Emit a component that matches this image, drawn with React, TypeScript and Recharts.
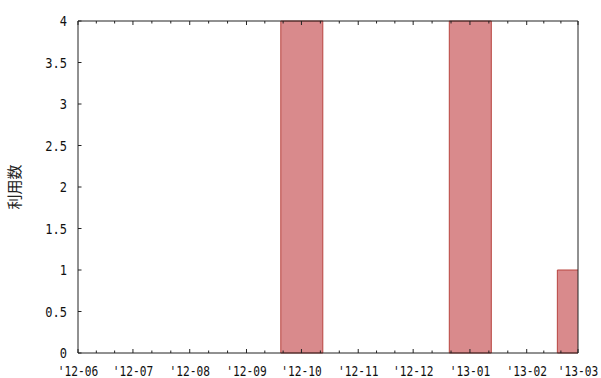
import { ComposedChart, Bar, XAxis, YAxis } from 'recharts';

// monthly usage counts, one entry per month start
const months = ['2012-06', '2012-07', '2012-08', '2012-09', '2012-10', '2012-11', '2012-12', '2013-01', '2013-02', '2013-03'];
const counts = [0, 0, 0, 0, 4, 0, 0, 4, 0, 1];
const yTicks = [0, 0.5, 1, 1.5, 2, 2.5, 3, 3.5, 4];

const AXIS = '#222';
const FONT = '"DejaVu Sans Mono", monospace';

const toTime = (m: string) => {
  const [y, mo] = m.split('-').map(Number);
  return Date.UTC(y, mo - 1, 1);
};

const monthTimes = months.map(toTime);
const data = months.map((m, i) => ({ t: monthTimes[i], count: counts[i] }));

// minor ticks split each month into thirds
const minorTimes = monthTimes.slice(0, -1).flatMap((t, i) => {
  const step = (monthTimes[i + 1] - t) / 3;
  return [t + step, t + 2 * step];
});
const allTicks = [...monthTimes, ...minorTimes].sort((a, b) => a - b);
const majorSet = new Set(monthTimes);
const domain: [number, number] = [monthTimes[0], monthTimes[monthTimes.length - 1]];

const fmtMonth = (t: number) => {
  const d = new Date(t);
  return `'${String(d.getUTCFullYear()).slice(2)}-${String(d.getUTCMonth() + 1).padStart(2, '0')}`;
};

function BottomTick({ x, y, payload }: any) {
  const major = majorSet.has(payload.value);
  return (
    <g>
      <line x1={x} x2={x} y1={y} y2={y - (major ? 4 : 2.5)} stroke={AXIS} />
      {major && (
        <text
          transform={`translate(${x},${y + 23}) scale(0.8,1)`}
          textAnchor="middle"
          fontFamily={FONT}
          fontSize={14}
          fill="#111"
        >
          {fmtMonth(payload.value)}
        </text>
      )}
    </g>
  );
}

function TopTick({ x, y, payload }: any) {
  const major = majorSet.has(payload.value);
  return <line x1={x} x2={x} y1={y} y2={y + (major ? 4 : 2.5)} stroke={AXIS} />;
}

function LeftTick({ x, y, payload }: any) {
  return (
    <g>
      <line x1={x} x2={x + 3.5} y1={y} y2={y} stroke={AXIS} />
      <text
        transform={`translate(${x - 11},${y}) scale(0.86,1)`}
        textAnchor="end"
        dy="0.36em"
        fontFamily={FONT}
        fontSize={14}
        fill="#111"
      >
        {payload.value}
      </text>
    </g>
  );
}

export default function App() {
  return (
    <div style={{ position: 'absolute', left: 0, top: 0, width: 601, height: 378, background: '#fff' }}>
      <ComposedChart width={601} height={378} data={data} margin={{ top: 20, right: 22, bottom: 0, left: 0 }}>
        <XAxis
          xAxisId="bottom"
          dataKey="t"
          type="number"
          domain={domain}
          ticks={allTicks}
          interval={0}
          height={25}
          tickSize={0}
          tickMargin={0}
          tickLine={false}
          tick={BottomTick}
          axisLine={{ stroke: AXIS }}
        />
        <XAxis
          xAxisId="bars"
          dataKey="t"
          type="number"
          domain={domain}
          ticks={monthTimes}
          height={0}
          allowDataOverflow
          hide
        />
        <XAxis
          xAxisId="top"
          orientation="top"
          dataKey="t"
          type="number"
          domain={domain}
          ticks={allTicks}
          interval={0}
          height={1}
          tickSize={0}
          tickMargin={0}
          tickLine={false}
          tick={TopTick}
          axisLine={{ stroke: AXIS }}
        />
        <YAxis
          domain={[0, 4]}
          ticks={yTicks}
          interval={0}
          width={78}
          tickSize={0}
          tickMargin={0}
          tickLine={false}
          tick={LeftTick}
          axisLine={{ stroke: AXIS }}
          label={{
            value: '利用数',
            angle: -90,
            position: 'insideLeft',
            offset: 15,
            style: { textAnchor: 'middle', fontFamily: '"Noto Sans CJK JP", sans-serif', fontSize: 15, fill: '#222' },
          }}
        />
        <YAxis
          yAxisId="right"
          orientation="right"
          domain={[0, 4]}
          width={1}
          tick={false}
          tickLine={false}
          axisLine={{ stroke: AXIS }}
        />
        <Bar
          xAxisId="bars"
          dataKey="count"
          barSize={42}
          fill="#d98a8c"
          stroke="#b8443f"
          strokeWidth={1}
          isAnimationActive={false}
        />
      </ComposedChart>
    </div>
  );
}
